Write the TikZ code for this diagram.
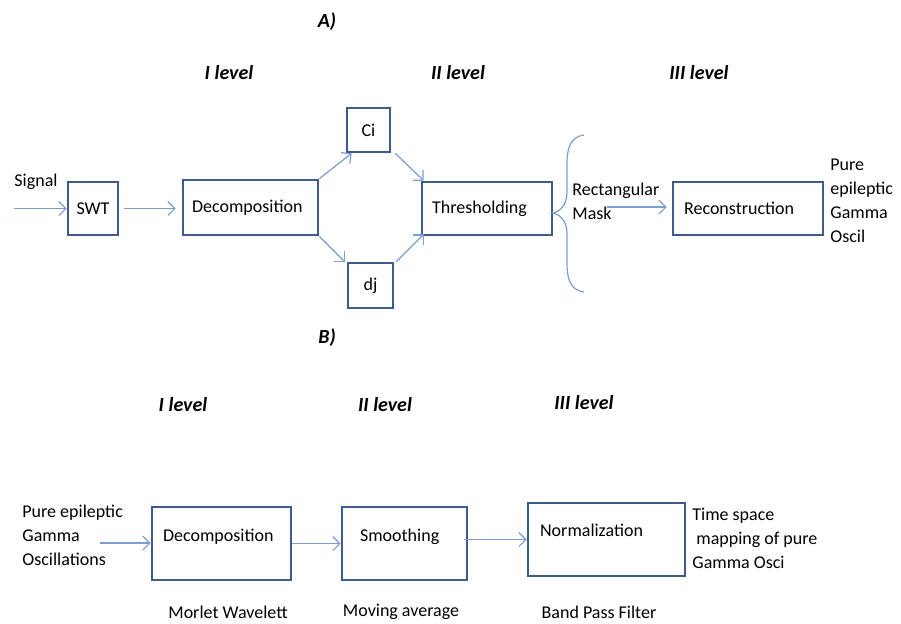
\documentclass[tikz,border=0pt]{standalone}
\usepackage{fontspec}
\setmainfont{Carlito}
\usepackage{xcolor}
\usepackage{tikz}
\usetikzlibrary{arrows.meta,positioning,calc}

\definecolor{boxblue}{HTML}{3E5A8E}
\definecolor{arrowblue}{HTML}{7E9CD4}

\begin{document}
\begin{tikzpicture}[
    x=0.5pt, y=-0.5pt,
    box/.style={rectangle, draw=boxblue, line width=1.3pt, inner sep=0pt, font=\fontsize{9}{12}\selectfont},
    flow/.style={->, >={Straight Barb[length=3.5pt,width=7pt]}, draw=arrowblue, line width=0.6pt},
    txt/.style={inner sep=0.5pt, align=left, font=\fontsize{9}{12}\selectfont},
    level/.style={font=\fontsize{10}{12}\selectfont\bfseries\itshape}
]
    \useasboundingbox (0,0) rectangle (901,623);

    % Part A
    \node[level] (titleA) at (327,22) {A)};
    \node[level] (lvA1) at (229,73) {I level};
    \node[level] (lvA2) at (458,73) {II level};
    \node[level] (lvA3) at (699,73) {III level};

    \node[box, minimum width=25pt, minimum height=26.5pt] (swt) at (93,208.5) {SWT};
    \node[box, minimum width=67.5pt, minimum height=27.5pt] (dec1) at (250.5,207.5) {};
    \node[box, minimum width=21.5pt, minimum height=22pt] (ci) at (368.5,130) {Ci};
    \node[box, minimum width=22.5pt, minimum height=22.5pt] (dj) at (370.5,285.5) {dj};
    \node[box, minimum width=65pt, minimum height=26.5pt] (thr) at (487,208.5) {};
    \node[box, minimum width=75pt, minimum height=26.5pt] (rec) at (748,208.5) {};

    \node[txt, right=4.5pt of dec1.west, anchor=west] (dec1txt) {Decomposition};
    \node[txt, right=5pt of thr.west, anchor=west] (thrtxt) {Thresholding};
    \node[txt, right=5.5pt of rec.west, anchor=west] (rectxt) {Reconstruction};

    \node[txt] (signal) at (36,182) {Signal};
    \node[txt, anchor=west] (mask) at (571,201) {Rectangular\\Mask};
    \node[txt, anchor=west] (pureA) at (829,201) {Pure\\epileptic\\Gamma\\Oscil};

    \coordinate (sigin) at (14,208.5);
    \coordinate (maskout) at (607,207);

    \draw[flow] (sigin) -- (swt.west);
    \draw[flow] ([xshift=2.5pt]swt.east) -- ([xshift=-3pt]dec1.west |- swt.east);
    \draw[flow] (dec1.north east) -- ([xshift=3pt]ci.south west);
    \draw[flow] (dec1.south east) -- ([xshift=-1pt]dj.north west);
    \draw[flow] ([xshift=2pt]ci.south east) -- ([xshift=1.5pt]thr.north west);
    \draw[flow] ([xshift=1pt]dj.north east) -- ([xshift=1.5pt,yshift=1pt]thr.south west);
    \draw[flow] (maskout) -- ([xshift=-2.5pt]rec.west |- maskout);

    % brace after thresholding
    \draw[arrowblue, line width=0.6pt]
        (584,135) .. controls (570,137) and (567,148) .. (567,165)
        -- (567,192) .. controls (567,205) and (560,212) .. (552,213)
        .. controls (560,214) and (567,221) .. (567,234)
        -- (567,262) .. controls (567,279) and (570,290) .. (584,292);

    % Part B
    \node[level] (titleB) at (327,338) {B)};
    \node[level] (lvB1) at (183,405) {I level};
    \node[level] (lvB2) at (385,405) {II level};
    \node[level] (lvB3) at (584,403) {III level};

    \node[box, minimum width=69.5pt, minimum height=36.5pt] (dec2) at (221.5,543.5) {};
    \node[box, minimum width=62.5pt, minimum height=36.5pt] (smo) at (404.5,543.5) {};
    \node[box, minimum width=78.5pt, minimum height=36.5pt] (nor) at (606.5,539.5) {};

    \node[txt, right=5.5pt of dec2.west, anchor=west, yshift=3.25pt] (dec2txt) {Decomposition};
    \node[txt, right=9pt of smo.west, anchor=west, yshift=3.25pt] (smotxt) {Smoothing};
    \node[txt, right=6pt of nor.west, anchor=west, yshift=4.75pt] (nortxt) {Normalization};

    \node[txt, anchor=west] (pureB) at (21,535) {Pure epileptic\\Gamma\\Oscillations};
    \node[txt, anchor=west] (tsmap) at (691,538) {Time space\\\hspace{2pt}mapping of pure\\Gamma Osci};

    \node[txt] (morlet) at (228,612) {Morlet Wavelett};
    \node[txt] (movavg) at (401,612) {Moving average};
    \node[txt] (bpf) at (599,612) {Band Pass Filter};

    \coordinate (purein) at (100,543);
    \draw[flow] (purein) -- (dec2.west |- purein);
    \draw[flow] (dec2.east) -- (smo.west);
    \draw[flow] ([xshift=-2pt]smo.east |- nor.west) -- (nor.west);
\end{tikzpicture}
\end{document}
